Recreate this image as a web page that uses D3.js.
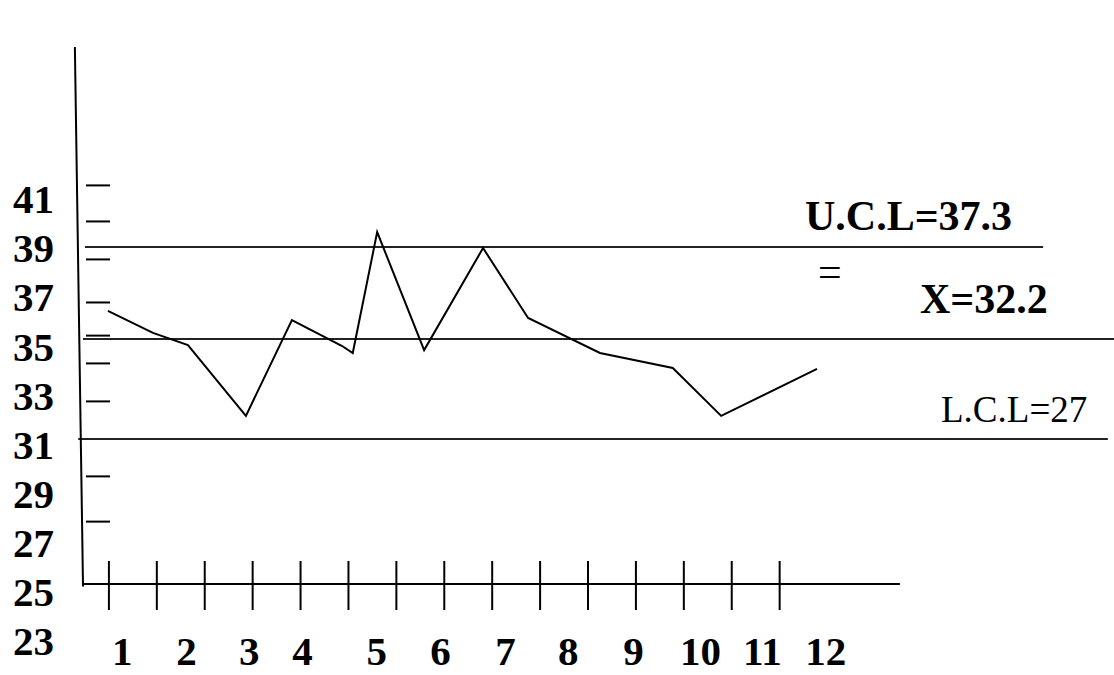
<!DOCTYPE html>
<html lang="en">
<head>
    <meta charset="UTF-8">
    <title>Control chart</title>
    <style type="text/css">
        body { margin: 0; background: #fff; }
        svg { display: block; }
        .axis path { display: none; }
        .axis line { stroke: #000; stroke-width: 2; }
        .label text {
            font-family: 'Liberation Serif', 'Times New Roman', serif;
            font-weight: bold;
            fill: #000;
        }
    </style>
</head>
<body>
<script src="https://cdn.jsdelivr.net/npm/d3@7"></script>
<script>
    var width = 1114,
        height = 675

    // sample positions (in x-tick units) and their means
    var samplePos = [0.99, 1.93, 2.66, 3.87, 4.83, 5.88, 6.10, 6.61, 7.59, 8.82, 9.76, 11.26, 12.78, 13.79, 15.79]
    var sampleValues = [36.29, 35.38, 34.88, 31.95, 35.91, 34.84, 34.55, 39.55, 34.67, 38.89, 36.0, 34.55, 33.93, 31.95, 33.89]

    // x labels and where they were written
    var xLabels = ['1', '2', '3', '4', '5', '6', '7', '8', '9', '10', '11', '12']
    var xLabelPos = [1.28, 2.62, 3.93, 5.04, 6.59, 7.92, 9.28, 10.59, 11.95, 13.35, 14.64, 15.96]
    var xTickMarks = d3.range(1, 16)

    // y labels and the short hand-drawn marks on the y axis
    var yLabels = [41, 39, 37, 35, 33, 31, 29, 27, 25, 23]
    var yTickMarks = [41.5, 40.01, 38.44, 36.66, 35.29, 34.14, 32.57, 29.47, 27.6]

    // control lines: plotted level, extent and text
    var limitValues = [38.93, 35.13, 30.99]
    var limitStart = [0.51, 0.47, 0.37]
    var limitEnd = [20.51, 22.0, 21.86]
    var limitText = ['U.C.L=37.3', 'X=32.2', 'L.C.L=27']

    var svg = d3.select('body')
        .append('svg')
        .attr('width', width)
        .attr('height', height)

    var xScale = d3.scaleLinear()
        .domain([0, 20])
        .range([60.5, 1018.7])

    var yScale = d3.scaleLinear()
        .domain([25, 41])
        .range([584, 197])

    // labels were written on a slightly different spacing
    var yLabelScale = d3.scaleLinear()
        .domain([23, 41])
        .range([640, 198])

    // control lines
    svg.selectAll('.limit')
        .data(limitValues)
        .enter()
        .append('line')
        .attr('class', 'limit')
        .attr('x1', (d, i) => xScale(limitStart[i]))
        .attr('x2', (d, i) => xScale(limitEnd[i]))
        .attr('y1', d => yScale(d))
        .attr('y2', d => yScale(d))
        .attr('stroke', '#222')
        .attr('stroke-width', 2)

    // y axis (slightly slanted, drawn by hand)
    svg.append('line')
        .attr('x1', xScale(0.30))
        .attr('y1', yScale(47.2))
        .attr('x2', xScale(0.47))
        .attr('y2', yScale(24.9))
        .attr('stroke', '#000')
        .attr('stroke-width', 2)

    // x axis
    svg.append('line')
        .attr('x1', xScale(0.47))
        .attr('x2', xScale(17.52))
        .attr('y1', yScale(25))
        .attr('y2', yScale(25))
        .attr('stroke', '#000')
        .attr('stroke-width', 2)

    // crossing ticks on the x axis
    svg.append('g')
        .attr('class', 'axis')
        .attr('transform', 'translate(0,' + (yScale(25) - 23) + ')')
        .call(d3.axisBottom(xScale).tickValues(xTickMarks).tickSize(49).tickFormat(''))

    // short marks on the y axis
    svg.append('g')
        .attr('class', 'axis')
        .attr('transform', 'translate(86,0)')
        .call(d3.axisRight(yScale).tickValues(yTickMarks).tickSize(24).tickFormat(''))

    // y labels
    var yAxisG = svg.append('g')
        .attr('class', 'label')
        .attr('transform', 'translate(54,0)')
        .call(d3.axisLeft(yLabelScale).tickValues(yLabels).tickSize(0).tickPadding(0))
    yAxisG.select('.domain').remove()
    yAxisG.selectAll('text')
        .attr('dy', '0.36em')
        .style('font-size', '41px')

    // x labels
    var xAxisG = svg.append('g')
        .attr('class', 'label')
        .attr('transform', 'translate(0,665)')
        .call(d3.axisBottom(xScale).tickValues(xLabelPos).tickSize(0).tickPadding(0)
            .tickFormat((d, i) => xLabels[i]))
    xAxisG.select('.domain').remove()
    xAxisG.selectAll('text')
        .attr('y', 0)
        .attr('dy', 0)
        .style('font-size', '41px')

    // sample line
    var line = d3.line()
        .x((d, i) => xScale(samplePos[i]))
        .y(d => yScale(d))

    svg.append('path')
        .datum(sampleValues)
        .attr('d', line)
        .attr('fill', 'none')
        .attr('stroke', '#000')
        .attr('stroke-width', 2)
        .attr('stroke-linejoin', 'miter')

    // limit captions
    var font = "'Liberation Serif', 'Times New Roman', serif"
    svg.append('text')
        .attr('x', 805)
        .attr('y', 230)
        .attr('font-family', font)
        .attr('font-weight', 'bold')
        .attr('font-size', 42)
        .text(limitText[0])

    svg.append('text')
        .attr('x', 818)
        .attr('y', 286)
        .attr('font-family', font)
        .attr('font-size', 42)
        .text('=')

    svg.append('text')
        .attr('x', 920)
        .attr('y', 313)
        .attr('font-family', font)
        .attr('font-weight', 'bold')
        .attr('font-size', 42)
        .text(limitText[1])

    svg.append('text')
        .attr('x', 941)
        .attr('y', 422)
        .attr('font-family', font)
        .attr('font-size', 37)
        .text(limitText[2])
</script>
</body>
</html>
